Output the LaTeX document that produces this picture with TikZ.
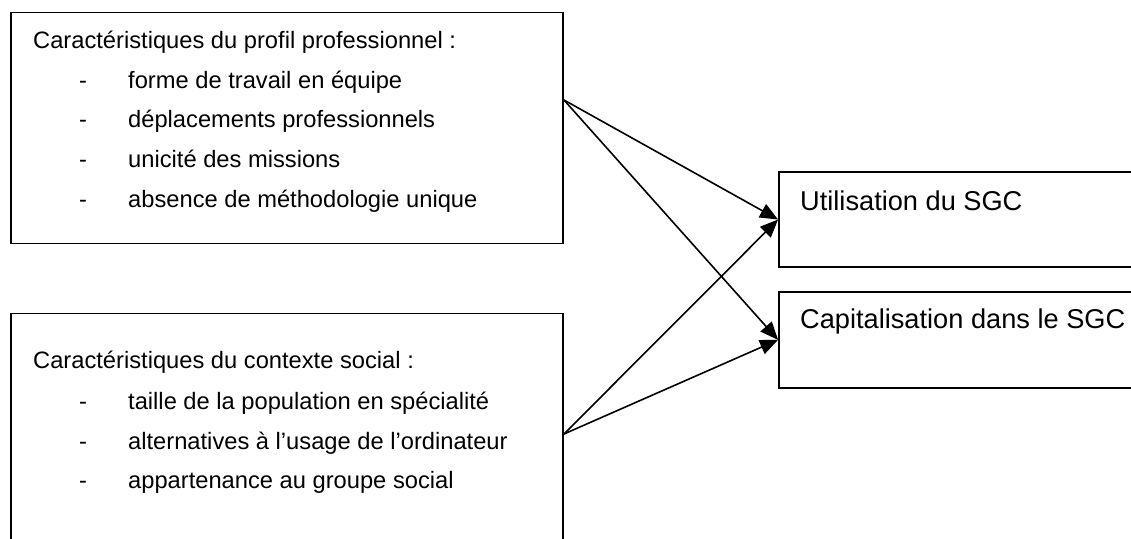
\documentclass[tikz,border=0pt]{standalone}
\usepackage{fontspec}
\setmainfont{Liberation Sans}
\usetikzlibrary{arrows.meta}
\begin{document}
\begin{tikzpicture}[x=1pt,y=-1pt,
  box/.style={draw, line width=1.9pt, inner sep=0pt},
  lt/.style={anchor=base west, inner sep=0pt, font=\fontsize{23.7}{28}\selectfont},
  rt/.style={anchor=base west, inner sep=0pt, font=\fontsize{27.2}{30}\selectfont},
  arr/.style={-{Triangle[length=18pt,width=15pt]}, line width=1.6pt}]
\useasboundingbox (0,0) rectangle (1131,538);
\begin{scope}
\clip (0,0) rectangle (1131,538);
% boxes
\node[box, minimum width=552pt, minimum height=231pt] (A) at (287,128) {};
\node[box, minimum width=552pt, minimum height=260pt] (B) at (287,443.5) {};
\node[box, minimum width=380pt, minimum height=95.6pt] (C) at (969,219.5) {};
\node[box, minimum width=380pt, minimum height=96.3pt] (D) at (969,339.85) {};
% texts box A
\node[lt] (A0) at (33,48) {Caractéristiques du profil professionnel :};
\node[lt] (A1d) at (79,88) {-};
\node[lt] (A1) at (128,88) {forme de travail en équipe};
\node[lt] (A2d) at (79,127) {-};
\node[lt] (A2) at (128,127) {déplacements professionnels};
\node[lt] (A3d) at (79,167) {-};
\node[lt] (A3) at (128,167) {unicité des missions};
\node[lt] (A4d) at (79,207) {-};
\node[lt] (A4) at (128,207) {absence de méthodologie unique};
% texts box B
\node[lt] (B0) at (33,368) {Caractéristiques du contexte social :};
\node[lt] (B1d) at (79,409) {-};
\node[lt] (B1) at (128,409) {taille de la population en spécialité};
\node[lt] (B2d) at (79,449) {-};
\node[lt] (B2) at (128,449) {alternatives à l’usage de l’ordinateur};
\node[lt] (B3d) at (79,488) {-};
\node[lt] (B3) at (128,488) {appartenance au groupe social};
% right texts
\node[rt] (C0) at (800,210) {Utilisation du SGC};
\node[rt] (D0) at (800,328) {Capitalisation dans le SGC};
% ports
\coordinate (pA) at (A.east |- 0,100);
\coordinate (pB) at (B.east |- 0,434);
% arrows
\draw[arr] (pA) -- (C.west);
\draw[arr] (pA) -- (D.west);
\draw[arr] (pB) -- (C.west);
\draw[arr] (pB) -- (D.west);
\end{scope}
\end{tikzpicture}
\end{document}
